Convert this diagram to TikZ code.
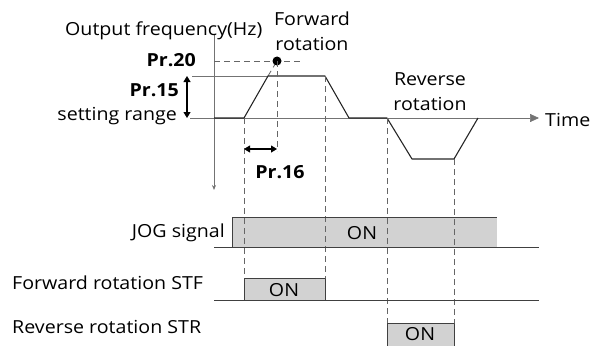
\documentclass[tikz,border=0pt]{standalone}
\usepackage{fontspec}
\setmainfont{Open Sans}[FakeStretch=1.09]
\usetikzlibrary{arrows.meta}

\tikzset{
  wave/.style={draw=black!85, line width=1.1pt},
  guide/.style={draw=black!55, line width=0.7pt},
  vdash/.style={draw=black!60, line width=0.8pt, dash pattern=on 6pt off 4pt},
  onbox/.style={fill=gray!35},
  sigline/.style={draw=black!75, line width=0.9pt},
  dimarrow/.style={line width=1.1pt, {Triangle[length=6pt,width=7pt]}-{Triangle[length=6pt,width=7pt]}},
  lbl/.style={inner sep=0pt}
}

\begin{document}
\begin{tikzpicture}[x=1pt, y=-1pt, line join=round, font=\fontsize{18}{25}\selectfont]
\useasboundingbox (0,0) rectangle (591,345);

\coordinate (top) at (214,35);
\coordinate (bot) at (214,190);
\coordinate (o) at (214,118);
\coordinate (r1) at (244,118);
\coordinate (r2) at (268,76);
\coordinate (pk) at (277,61);
\coordinate (f1) at (325,76);
\coordinate (f2) at (349,118);
\coordinate (b1) at (387,118);
\coordinate (b2) at (412,159);
\coordinate (b3) at (454,159);
\coordinate (b4) at (478,118);
\coordinate (tl) at (190,118);
\coordinate (tr) at (539,118);
\coordinate (ul) at (192,76);

% axes and guides
\draw[guide, -{Stealth[length=5pt,width=4pt]}] (top) -- (bot);
\draw[guide, -{Triangle[length=9pt,width=8pt]}] (tl) -- (tr);
\draw[guide] (ul) -- (r2);
\draw[vdash] (214,61) -- (300,61);
\draw[vdash] (r2) -- (pk);
\fill (pk) circle (4.5pt);

% frequency curve
\draw[wave] (o) -- (r1) -- (r2) -- (f1) -- (f2) -- (b1) -- (b2) -- (b3) -- (b4);
\draw[vdash] (pk) -- (277,151);

% signals
\fill[onbox] (232,217) rectangle (497,247);
\fill[onbox] (244,278) rectangle (325,300);
\fill[onbox] (387,323) rectangle (454,346);
\draw[vdash] (r1) -- (244,278);
\draw[vdash] (f1) -- (325,278);
\draw[vdash] (b1) -- (387,323);
\draw[vdash] (b3) -- (454,323);
\draw[sigline] (214,247) -- (232,247) -- (232,217) -- (497,217);
\draw[sigline] (232,247) -- (539,247);
\draw[sigline] (214,300) -- (539,300);
\draw[sigline] (244,300) -- (244,278) -- (325,278) -- (325,300);
\draw[sigline] (387,346) -- (387,323) -- (454,323) -- (454,346);

% dimensions
\draw[dimarrow] (187,76) -- (187,118);
\draw[dimarrow] (244,149) -- (277,149);

% labels
\node[lbl, anchor=west] (freq) at (65,31) {Output frequency(Hz)};
\node[lbl, align=center] (fwd) at (312,31) {Forward\\rotation};
\node[lbl, align=center] (rev) at (430,92) {Reverse\\rotation};
\node[lbl, anchor=west] (time) at (545,120) {Time};
\node[lbl, anchor=east, font=\fontsize{18}{25}\selectfont\bfseries] (pr20) at (196,60) {Pr.20};
\node[lbl, anchor=east, font=\fontsize{18}{25}\selectfont\bfseries] (pr15) at (179,90) {Pr.15};
\node[lbl, anchor=east] (rng) at (177,116) {setting range};
\node[lbl, font=\fontsize{18}{25}\selectfont\bfseries] (pr16) at (280,172) {Pr.16};
\node[lbl] (jogon) at (362,233) {ON};
\node[lbl] (stfon) at (284,290) {ON};
\node[lbl] (stron) at (420,334) {ON};
\node[lbl, anchor=east] (jog) at (225,233) {JOG signal};
\node[lbl, anchor=west] (stf) at (12,283) {Forward rotation STF};
\node[lbl, anchor=west] (str) at (12,327) {Reverse rotation STR};
\end{tikzpicture}
\end{document}
